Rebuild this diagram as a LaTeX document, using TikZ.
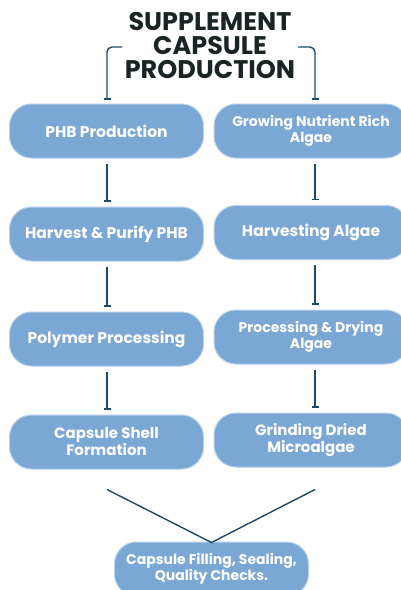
\documentclass[tikz,border=0pt]{standalone}
\usepackage{fontspec}
\setmainfont{Poppins}
\usetikzlibrary{arrows.meta,calc}
\definecolor{boxfill}{HTML}{7BA7D5}
\definecolor{boxline}{HTML}{B4D0EC}
\definecolor{conn}{HTML}{1D4A63}
\definecolor{titlec}{HTML}{1B2424}
\begin{document}
\begin{tikzpicture}[x=1pt,y=-1pt,
  stepbox/.style={draw=boxline, line width=1pt, fill=boxfill, rounded corners=22pt,
    minimum width=194pt, minimum height=54pt, text=white, align=center,
    font=\fontsize{15.5}{17}\selectfont\bfseries, inner sep=0pt},
  fsA/.style={font=\fontsize{14}{16}\selectfont\bfseries},
  fsB/.style={font=\fontsize{15}{17}\selectfont\bfseries},
  conline/.style={draw=conn, line width=1.4pt, -{Bar[width=7pt,line width=1.4pt]}},
  plainline/.style={draw=conn, line width=1.4pt}]
\useasboundingbox (0,0) rectangle (401,590);
\node[font=\fontsize{25.5}{24}\selectfont\bfseries, text=titlec, align=center] (title) at (210,46)
  {SUPPLEMENT\\CAPSULE\\PRODUCTION};
\node[stepbox] (l1) at (106.5,131) {PHB Production};
\node[stepbox] (l2) at (106.5,234) {Harvest \& Purify PHB};
\node[stepbox] (l3) at (106.5,339) {Polymer Processing};
\node[stepbox, fsB] (l4) at (106.5,442) {Capsule Shell\\Formation};
\node[stepbox, fsA] (r1) at (311,131) {Growing Nutrient Rich\\Algae};
\node[stepbox] (r2) at (311,232.5) {Harvesting Algae};
\node[stepbox, fsA] (r3) at (311,337) {Processing \& Drying\\Algae};
\node[stepbox, fsB] (r4) at (311,440) {Grinding Dried\\Microalgae};
\node[stepbox, font=\fontsize{14}{15}\selectfont\bfseries] (fin) at (211.5,569) {Capsule Filling, Sealing,\\Quality Checks.};
% bracket
\coordinate (tl) at (122,47);
\coordinate (tr) at (298,47);
\draw[conline, rounded corners=5pt] (tl) -- (107,47) -- ([xshift=0.5pt,yshift=4pt]l1.north);
\draw[conline, rounded corners=5pt] (tr) -- (315,47) -- ([xshift=4pt,yshift=4pt]r1.north);
% verticals
\foreach \a/\b in {l1/l2,l2/l3,l3/l4}
  \draw[conline, shorten <=5pt, shorten >=5pt] ([xshift=0.5pt]\a.south) -- ([xshift=0.5pt]\b.north);
\foreach \a/\b in {r1/r2,r2/r3,r3/r4}
  \draw[conline, shorten <=5pt, shorten >=5pt] ([xshift=4pt]\a.south) -- ([xshift=4pt]\b.north);
% V
\coordinate (vl) at ([xshift=0.5pt,yshift=-20pt]l4.south);
\coordinate (vr) at ([xshift=4pt,yshift=-22pt]r4.south);
\draw[plainline] (vl) -- ([yshift=-1pt]fin.north) -- (vr);
\end{tikzpicture}
\end{document}
